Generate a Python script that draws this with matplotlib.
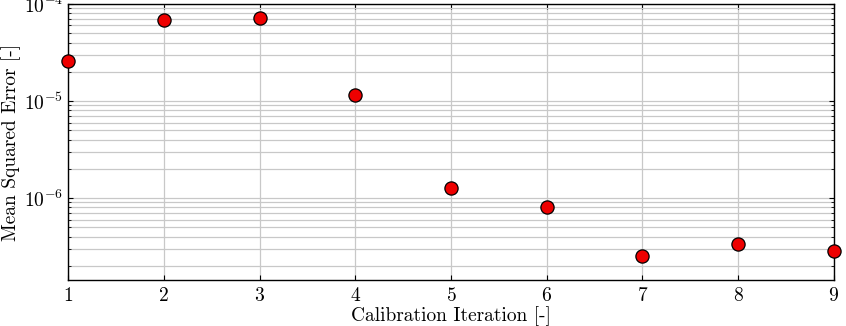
import matplotlib
matplotlib.use("Agg")
import matplotlib.pyplot as plt
from matplotlib.ticker import LogLocator, NullFormatter

plt.rcParams['font.family'] = 'serif'
plt.rcParams['font.serif'] = ['cmr10', 'DejaVu Serif']
plt.rcParams['mathtext.fontset'] = 'cm'
plt.rcParams['axes.formatter.use_mathtext'] = True

iterations = [1, 2, 3, 4, 5, 6, 7, 8, 9]
mse = [2.58e-5, 6.84e-5, 7.22e-5, 1.15e-5, 1.27e-6, 8.07e-7, 2.54e-7, 3.36e-7, 2.82e-7]

fig = plt.figure(figsize=(8.46, 3.26), dpi=100)
ax = fig.add_axes([0.0804, 0.141, 0.9054, 0.847])
ax.set_yscale('log')
ax.plot(iterations, mse, 'o', color='#ee0000', markeredgecolor='black',
        markeredgewidth=0.9, markersize=9.5, zorder=5, clip_on=False)
ax.set_xlim(1, 9)
ax.set_ylim(1.43e-7, 1e-4)
ax.set_xticks(iterations)
ax.yaxis.set_major_locator(LogLocator(base=10, numticks=10))
ax.yaxis.set_minor_locator(LogLocator(base=10, subs=range(2, 10), numticks=20))
ax.yaxis.set_minor_formatter(NullFormatter())
ax.grid(True, which='major', color='#c8c8c8', linewidth=0.9)
ax.grid(True, which='minor', axis='y', color='#c8c8c8', linewidth=0.9)
ax.set_axisbelow(True)
ax.tick_params(which='both', direction='in', top=True, right=True, labelsize=14)
ax.tick_params(axis='x', pad=5)
for s in ax.spines.values():
    s.set_linewidth(1.0)
ax.set_xlabel('Calibration Iteration [-]', fontsize=14, labelpad=1)
ax.set_ylabel('Mean Squared Error [-]', fontsize=14, labelpad=2)
fig.savefig('out.png', dpi=100)
